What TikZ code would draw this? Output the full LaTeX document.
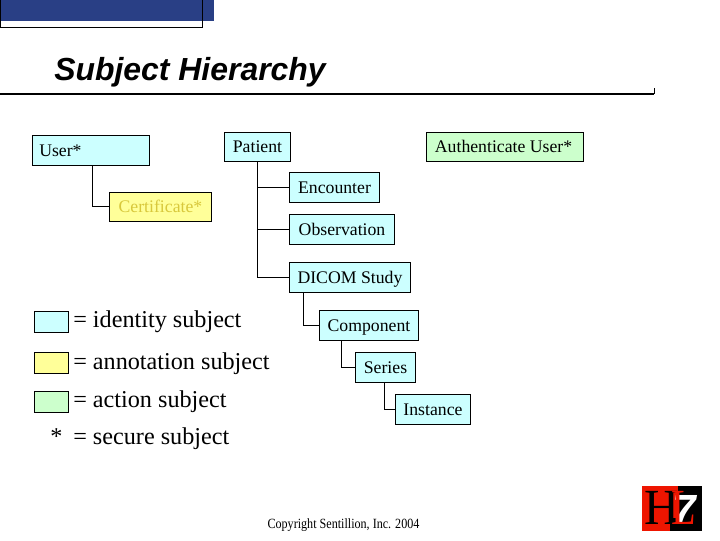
\documentclass[tikz,border=0pt]{standalone}
\usepackage{fontspec}
\setmainfont{Liberation Serif}
\newfontfamily\titlefont{Liberation Sans}
\usetikzlibrary{calc}

\definecolor{idcolor}{HTML}{CCFFFF}
\definecolor{notecolor}{HTML}{FFFF99}
\definecolor{actcolor}{HTML}{CCFFCC}
\definecolor{notetext}{HTML}{D8C83C}
\definecolor{bannerblue}{HTML}{293F85}
\definecolor{logored}{HTML}{EE1500}

\tikzset{
  subj/.style={draw=black,line width=0.7pt,inner sep=0pt,font=\fontsize{12.6}{14}\selectfont,text height=9.5pt,text depth=1.5pt,anchor=north west},
  idsubj/.style={subj,fill=idcolor},
  notesubj/.style={subj,fill=notecolor,text=notetext},
  actsubj/.style={subj,fill=actcolor},
  swatch/.style={draw=black,line width=0.6pt,inner sep=0pt,anchor=north west,minimum width=34*0.711pt,minimum height=21*0.711pt},
  legend/.style={anchor=west,inner sep=0pt,font=\fontsize{17.2}{19}\selectfont},
  link/.style={black,line width=0.7pt}
}

\begin{document}
\begin{tikzpicture}[x=0.025cm,y=-0.025cm]

\useasboundingbox (0,0) rectangle (720,540);

% banner and rule
\fill[bannerblue] (0,0) rectangle (214,21);
\draw[black,line width=0.7pt] (0.5,-2) rectangle (202,27);
\coordinate (ruleA) at (0,94);
\coordinate (ruleB) at (654,94);
\coordinate (ruleC) at (654,88);
\draw[black,line width=1.5pt] (ruleA)--(ruleB);
\draw[black,line width=0.7pt] (ruleB)--(ruleC);
\node[anchor=west,inner sep=0pt,font=\titlefont\bfseries\itshape\fontsize{22.7}{26}\selectfont] (title) at (54,72) {Subject Hierarchy};

% subjects
\node[idsubj,minimum width=83pt,minimum height=21pt] (user) at (32,135) {};
\node[anchor=west,inner sep=0pt,font=\fontsize{12.6}{14}\selectfont,text height=9.5pt,text depth=1.5pt] (userlabel) at (39,151) {User*};
\node[notesubj,minimum width=72.5pt,minimum height=20.6pt] (certificate) at (109,192) {Certificate*};
\node[idsubj,minimum width=46.9pt,minimum height=20.6pt] (patient) at (224,132) {Patient};
\node[actsubj,minimum width=111.6pt,minimum height=20.6pt] (authenticate) at (426,132) {\hspace{-2pt}Authenticate User*};
\node[idsubj,minimum width=64pt,minimum height=21.3pt] (encounter) at (289,172) {Encounter};
\node[idsubj,minimum width=74.7pt,minimum height=21.3pt] (observation) at (289,214) {Observation};
\node[idsubj,minimum width=86pt,minimum height=21.3pt] (dicom) at (289,262) {DICOM Study};
\node[idsubj,minimum width=70.4pt,minimum height=21.3pt] (component) at (319,310) {Component};
\node[idsubj,minimum width=42.7pt,minimum height=21.3pt] (series) at (355,352) {Series};
\node[idsubj,minimum width=53.3pt,minimum height=21.3pt] (instance) at (395,394) {Instance};

% links
\draw[link] ($(user.south west)+(60,0)$) |- (certificate.west);
\draw[link] (patient.south) |- (encounter.west);
\draw[link] (patient.south) |- (observation.west);
\draw[link] (patient.south) |- (dicom.west);
\draw[link] ($(dicom.south west)+(14,0)$) |- (component.west);
\draw[link] ($(component.south west)+(22,0)$) |- (series.west);
\draw[link] ($(series.south west)+(29,0)$) |- (instance.west);

% legend
\node[swatch,fill=idcolor] (keyid) at (34,311) {};
\node[swatch,fill=notecolor] (keynote) at (34,352) {};
\node[swatch,fill=actcolor] (keyact) at (34,391) {};
\node[legend] (textid) at (73,321.5) {= identity subject};
\node[legend] (textnote) at (73,363.5) {= annotation subject};
\node[legend] (textact) at (73,401.5) {= action subject};
\node[legend] (textsecure) at (73,438.5) {= secure subject};
\node[anchor=center,inner sep=0pt,font=\fontsize{17.2}{19}\selectfont] (star) at (56.5,437) {*};

% footer
\node[inner sep=0pt,font=\fontsize{10}{12}\selectfont,xscale=0.86] (copyright) at (343.5,525) {Copyright Sentillion, Inc. 2004};

% logo
\fill[logored] (642,486) rectangle (678,531);
\fill[black] (678,486) rectangle (702,531);
\fill[black] (670,518) rectangle (678,531);
\node[inner sep=0pt,text=white,font=\titlefont\bfseries\itshape\fontsize{30}{30}\selectfont] (seven) at (684,510) {7};
\node[inner sep=0pt,text=black,font=\fontsize{36}{36}\selectfont,xscale=0.95] (logoH) at (662,508) {H};
\node[inner sep=0pt,text=logored,font=\fontsize{36}{36}\selectfont,xscale=0.8] (logoL) at (684,508) {L};

\end{tikzpicture}
\end{document}
